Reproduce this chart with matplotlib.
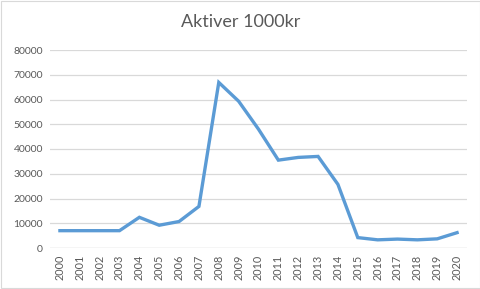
import matplotlib
matplotlib.use("Agg")
import matplotlib.pyplot as plt
from matplotlib.patches import Rectangle

# data
years = [str(y) for y in range(2000, 2021)]
aktiver = [7000, 7000, 7000, 7000, 12400, 9200, 10700, 16800, 66900, 59300,
           48000, 35500, 36600, 37000, 25700, 4200, 3300, 3600, 3300, 3700, 6200]
yticks = [0, 10000, 20000, 30000, 40000, 50000, 60000, 70000, 80000]

plt.rcParams['font.family'] = ['Lato', 'DejaVu Sans']
text_col = '#595959'
grid_col = '#d9d9d9'

fig = plt.figure(figsize=(4.81, 2.89), dpi=100)
ax = fig.add_axes([50 / 481, 1 - 248 / 289, 417 / 481, 198 / 289])

x = range(len(years))
ax.plot(x, aktiver, color='#5B9BD5', lw=2.4, solid_joinstyle='miter', zorder=3)

ax.set_ylim(0, 80000)
ax.set_xlim(-0.5, len(years) - 0.5)
ax.set_yticks(yticks)
ax.set_yticklabels([str(v) for v in yticks], color=text_col, fontsize=7.5)
ax.set_xticks(list(x))
ax.set_xticklabels(years, rotation=90, color=text_col, fontsize=7.8)
ax.tick_params(length=0, pad=5)

ax.grid(axis='y', color=grid_col, lw=0.9)
for s in ax.spines.values():
    s.set_visible(False)
ax.axhline(0, color=grid_col, lw=0.9)

fig.text(0.5, 1 - 22 / 289, 'Aktiver 1000kr', ha='center', va='center',
         fontsize=13, color=text_col)

# chart area border
fig.patches.append(Rectangle((0.002, 0.003), 0.995, 0.993, transform=fig.transFigure,
                             fill=False, edgecolor='#d9d9d9', lw=0.8))

fig.savefig('out.png', dpi=100)
